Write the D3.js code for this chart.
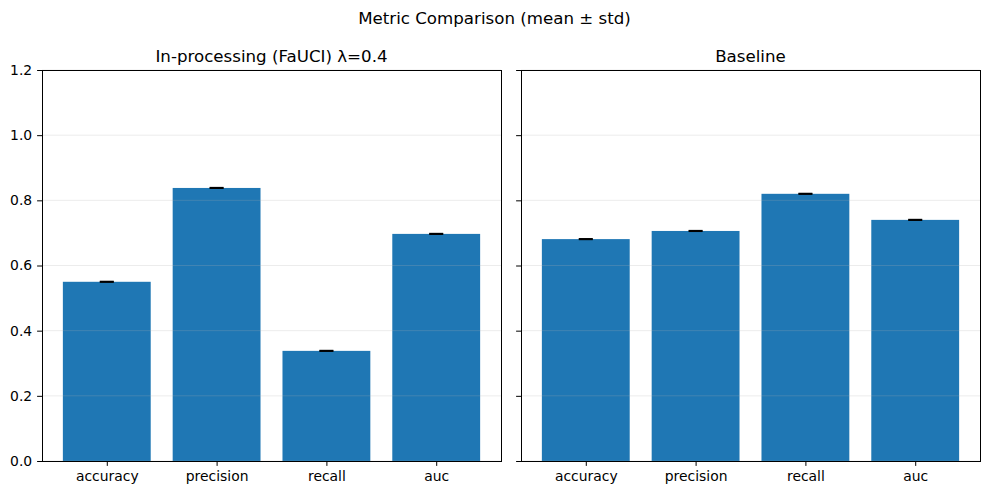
<!DOCTYPE html>
<html>
<head>
<meta charset="utf-8">
<script src="https://cdn.jsdelivr.net/npm/d3@7"></script>
<style>
  body { margin: 0; background: #fff; }
  text { font-family: "DejaVu Sans", sans-serif; fill: #000; }
</style>
</head>
<body>
<svg id="chart" width="989" height="495"></svg>
<script>
// data
var metrics = ["accuracy", "precision", "recall", "auc"];
var inprocMean = [0.550, 0.838, 0.338, 0.697];
var inprocStd = [0.001, 0.001, 0.001, 0.001];
var baseMean = [0.681, 0.706, 0.820, 0.740];
var baseStd = [0.001, 0.001, 0.001, 0.001];
var yTicks = [0.0, 0.2, 0.4, 0.6, 0.8, 1.0, 1.2];

var svg = d3.select("#chart");
var plotTop = 70, plotBottom = 461;

svg.append("text")
    .attr("x", 494.5).attr("y", 24)
    .attr("text-anchor", "middle")
    .style("font-size", "16.67px")
    .text("Metric Comparison (mean \u00b1 std)");

var y = d3.scaleLinear().domain([0, 1.2]).range([plotBottom, plotTop]);

function drawPanel(left, right, title, means, stds, showLabels) {
  var x = d3.scaleLinear().domain([-0.59, 3.59]).range([left, right]);
  var g = svg.append("g");
  var bw = x(0.8) - x(0);

  g.selectAll("rect.bar")
      .data(means)
      .enter().append("rect")
      .attr("class", "bar")
      .attr("x", function(d, i) { return x(i) - bw / 2; })
      .attr("width", bw)
      .attr("y", function(d) { return y(d); })
      .attr("height", function(d) { return y(0) - y(d); })
      .style("fill", "#1f77b4");

  // grid on top of bars
  g.selectAll("line.grid")
      .data(yTicks)
      .enter().append("line")
      .attr("x1", left).attr("x2", right)
      .attr("y1", function(d) { return y(d); })
      .attr("y2", function(d) { return y(d); })
      .style("stroke", "#b0b0b0")
      .style("stroke-opacity", 0.3)
      .style("stroke-width", 0.8);

  // error bars
  means.forEach(function(m, i) {
    var cx = x(i), lo = y(m - stds[i]), hi = y(m + stds[i]);
    g.append("line").attr("x1", cx).attr("x2", cx).attr("y1", lo).attr("y2", hi)
        .style("stroke", "#000").style("stroke-width", 1.5);
    [lo, hi].forEach(function(yy) {
      g.append("line").attr("x1", cx - 7).attr("x2", cx + 7).attr("y1", yy).attr("y2", yy)
          .style("stroke", "#000").style("stroke-width", 1.5);
    });
  });

  var xAxis = d3.axisBottom(x).tickValues([0, 1, 2, 3])
      .tickFormat(function(d) { return metrics[d]; })
      .tickSize(4.9).tickPadding(4.9);
  var gx = g.append("g").attr("transform", "translate(0," + plotBottom + ")").call(xAxis);
  gx.select(".domain").remove();
  gx.selectAll("text").style("font-size", "13.9px").style("font-family", "DejaVu Sans, sans-serif");
  gx.selectAll("line").style("stroke-width", 1);

  var yAxis = d3.axisLeft(y).tickValues(yTicks)
      .tickFormat(showLabels ? d3.format(".1f") : function() { return ""; })
      .tickSize(4.9).tickPadding(4.9);
  var gy = g.append("g").attr("transform", "translate(" + left + ",0)").call(yAxis);
  gy.select(".domain").remove();
  gy.selectAll("text").style("font-size", "13.9px").style("font-family", "DejaVu Sans, sans-serif");
  gy.selectAll("line").style("stroke-width", 1);

  g.append("rect")
      .attr("x", left).attr("y", plotTop)
      .attr("width", right - left).attr("height", plotBottom - plotTop)
      .attr("shape-rendering", "crispEdges")
      .style("fill", "none").style("stroke", "#000").style("stroke-width", 1);

  g.append("text")
      .attr("x", (left + right) / 2).attr("y", plotTop - 8)
      .attr("text-anchor", "middle")
      .style("font-size", "16.67px")
      .text(title);
}

drawPanel(42, 501, "In-processing (FaUCI) \u03bb=0.4", inprocMean, inprocStd, true);
drawPanel(521, 980, "Baseline", baseMean, baseStd, false);
</script>
</body>
</html>
